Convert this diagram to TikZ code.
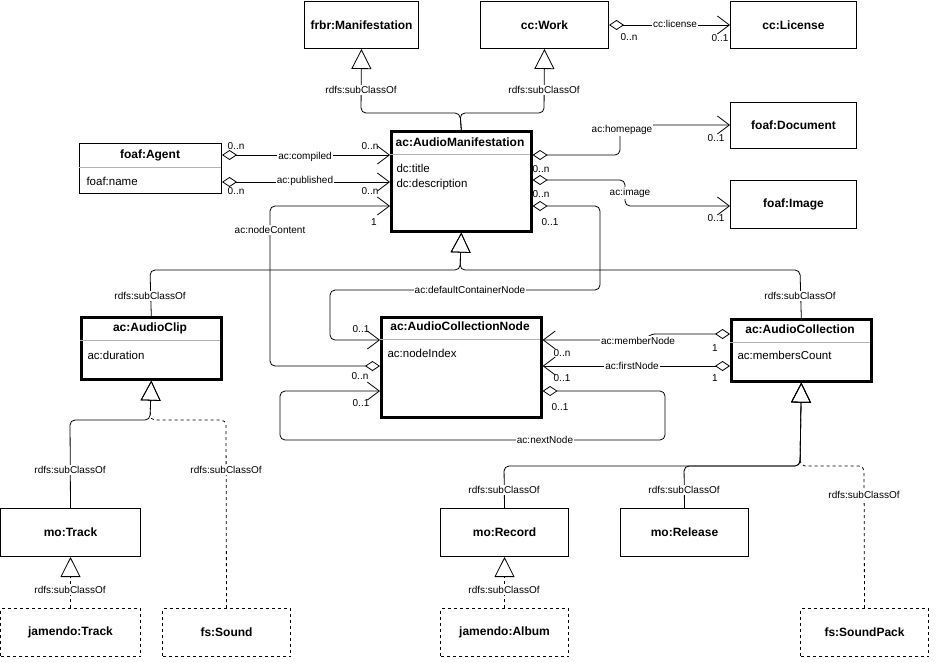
\documentclass[tikz,border=0pt]{standalone}
\usepackage{fontspec}
\setmainfont{Liberation Sans}
\usetikzlibrary{arrows.meta,calc}
\begin{document}
\begin{tikzpicture}[x=1pt,y=-1pt,
  box/.style={draw,line width=1pt,anchor=north west,inner sep=0pt},
  tbox/.style={draw,line width=2.6pt,anchor=north west,inner sep=0pt},
  dbox/.style={draw,line width=1pt,dashed,anchor=north west,inner sep=0pt},
  ttl/.style={font=\fontsize{12}{14}\selectfont\bfseries},
  attr/.style={font=\fontsize{11.5}{14}\selectfont,anchor=west},
  lbl/.style={font=\fontsize{10}{12}\selectfont,fill=white,inner sep=1pt},
  mul/.style={font=\fontsize{10}{12}\selectfont,inner sep=1pt},
  con/.style={line width=0.8pt,rounded corners=5pt},
  assoc/.style={con,{Diamond[open,length=15pt,width=10pt]}-{Straight Barb[length=12pt,width=18pt]}},
  gen/.style={con,-{Triangle[open,length=20pt,width=20pt]}},
  dgen/.style={gen,dashed}]
\useasboundingbox (0,0) rectangle (941,661);
% simple boxes
\node[box,minimum width=114,minimum height=47] (fm) at (304,1) {};
\node[ttl] at (fm) {frbr:Manifestation};
\node[box,minimum width=128,minimum height=47] (work) at (480,1) {};
\node[ttl] at (work) {cc:Work};
\node[box,minimum width=126,minimum height=47] (lic) at (730,1) {};
\node[ttl] at (lic) {cc:License};
\node[box,minimum width=126,minimum height=46] (doc) at (730,102) {};
\node[ttl] at (doc) {foaf:Document};
\node[box,minimum width=126,minimum height=48] (img) at (730,180) {};
\node[ttl] at (img) {foaf:Image};
% compartment boxes
\node[box,minimum width=142,minimum height=50] (agent) at (79,143) {};
\draw[gray!60,line width=0.5pt] (79,167) -- (221,167);
\node[ttl] at (150,155) {foaf:Agent};
\node[attr] at (83,181) {foaf:name};
\node[tbox,minimum width=140,minimum height=100] (am) at (390,130) {};
\draw[gray!60,line width=0.5pt] (390,154) -- (530,154);
\node[ttl] at (460,142) {ac:AudioManifestation};
\node[attr] at (393,168) {dc:title};
\node[attr] at (393,185) {dc:description};
\node[tbox,minimum width=140,minimum height=62] (clip) at (80,316) {};
\draw[gray!60,line width=0.5pt] (80,340) -- (220,340);
\node[ttl] at (150,328) {ac:AudioClip};
\node[attr] at (84,355) {ac:duration};
\node[tbox,minimum width=160,minimum height=100] (acn) at (380,316) {};
\draw[gray!60,line width=0.5pt] (380,339) -- (540,339);
\node[ttl] at (460,326) {ac:AudioCollectionNode};
\node[attr] at (384,353) {ac:nodeIndex};
\node[tbox,minimum width=140,minimum height=62] (ac) at (730,318) {};
\draw[gray!60,line width=0.5pt] (730,342) -- (870,342);
\node[ttl] at (800,329) {ac:AudioCollection};
\node[attr] at (734,355) {ac:membersCount};
% lower boxes
\node[box,minimum width=140,minimum height=48] (track) at (0,508) {};
\node[ttl] at (track) {mo:Track};
\node[dbox,minimum width=140,minimum height=48] (jtrack) at (0,608) {};
\node[ttl] at (jtrack) {jamendo:Track};
\node[dbox,minimum width=128,minimum height=48] (sound) at (162,608) {};
\node[ttl] at (sound) {fs:Sound};
\node[box,minimum width=128,minimum height=48] (rec) at (440,508) {};
\node[ttl] at (rec) {mo:Record};
\node[dbox,minimum width=128,minimum height=48] (alb) at (440,608) {};
\node[ttl] at (alb) {jamendo:Album};
\node[box,minimum width=128,minimum height=48] (rel) at (620,508) {};
\node[ttl] at (rel) {mo:Release};
\node[dbox,minimum width=128,minimum height=48] (pack) at (800,608) {};
\node[ttl] at (pack) {fs:SoundPack};
% generalizations
\draw[gen] (am.north) -- (460,113) -- (361,113) -- (fm.south);
\draw[gen] (am.north) -- (460,113) -- (544,113) -- (work.south);
\node[lbl] at (361,90) {rdfs:subClassOf};
\node[lbl] at (544,90) {rdfs:subClassOf};
\draw[gen] (clip.north) -- (150,270) -- (460,270) -- (am.south);
\draw[gen] (ac.north) -- (800,270) -- (460,270) -- (am.south);
\node[lbl] at (150,296) {rdfs:subClassOf};
\node[lbl] at (800,296) {rdfs:subClassOf};
\draw[gen] (track.north) -- (70,420) -- (150,420) -- (clip.south);
\draw[dgen] (sound.north) -- (226,420) -- (150,420) -- (clip.south);
\node[lbl] at (70,470) {rdfs:subClassOf};
\node[lbl] at (226,470) {rdfs:subClassOf};
\draw[dgen] (jtrack.north) -- (track.south);
\node[lbl] at (70,590) {rdfs:subClassOf};
\draw[gen] (rec.north) -- (504,466) -- (800,466) -- (ac.south);
\draw[gen] (rel.north) -- (684,466) -- (800,466) -- (ac.south);
\draw[dgen] (pack.north) -- (864,466) -- (800,466) -- (ac.south);
\node[lbl] at (504,490) {rdfs:subClassOf};
\node[lbl] at (684,490) {rdfs:subClassOf};
\node[lbl] at (864,495) {rdfs:subClassOf};
\draw[dgen] (alb.north) -- (rec.south);
\node[lbl] at (504,590) {rdfs:subClassOf};
% associations
\draw[assoc] (work.east) -- (lic.west);
\node[lbl] at (675,24) {cc:license};
\node[mul] at (629,37) {0..n};
\node[mul] at (720,38) {0..1};
\draw[assoc] (agent.east |- 0,155) -- (am.west |- 0,155);
\node[lbl] at (305,157) {ac:compiled};
\node[mul] at (236,146) {0..n};
\node[mul] at (370,146) {0..n};
\draw[assoc] (agent.east |- 0,182) -- (am.west |- 0,182);
\node[lbl] at (305,181) {ac:published};
\node[mul] at (236,191) {0..n};
\node[mul] at (370,191) {0..n};
\draw[assoc] (acn.west |- 0,366) -- (270,366) -- (270,206) -- (am.west |- 0,206);
\node[lbl] at (270,230) {ac:nodeContent};
\node[mul] at (374,222) {1};
\node[mul] at (360,376) {0..n};
\draw[assoc] (am.east |- 0,155) -- (620,155) -- (620,125) -- (doc.west |- 0,125);
\node[lbl] at (622,130) {ac:homepage};
\node[mul] at (716,138) {0..1};
\node[mul] at (541,169) {0..n};
\draw[assoc] (am.east |- 0,180) -- (625,180) -- (625,206) -- (img.west |- 0,206);
\node[lbl] at (630,193) {ac:image};
\node[mul] at (541,194) {0..n};
\node[mul] at (716,218) {0..1};
\draw[assoc] (am.east |- 0,206) -- (600,206) -- (600,290) -- (330,290) -- (330,340) -- (acn.west |- 0,340);
\node[lbl] at (470,290) {ac:defaultContainerNode};
\node[mul] at (550,222) {0..1};
\node[mul] at (361,329) {0..1};
\draw[assoc] (ac.west |- 0,334) -- (650,334) -- (645,340) -- (acn.east |- 0,340);
\node[lbl] at (638,341) {ac:memberNode};
\node[mul] at (715,348) {1};
\node[mul] at (562,353) {0..n};
\draw[assoc] (ac.west |- 0,366) -- (acn.east |- 0,366);
\node[lbl] at (632,366) {ac:firstNode};
\node[mul] at (715,378) {1};
\node[mul] at (562,378) {0..1};
\draw[assoc] (acn.east |- 0,391) -- (665,391) -- (665,440) -- (280,440) -- (280,391) -- (acn.west |- 0,391);
\node[lbl] at (545,440) {ac:nextNode};
\node[mul] at (560,407) {0..1};
\node[mul] at (361,403) {0..1};
\end{tikzpicture}
\end{document}
